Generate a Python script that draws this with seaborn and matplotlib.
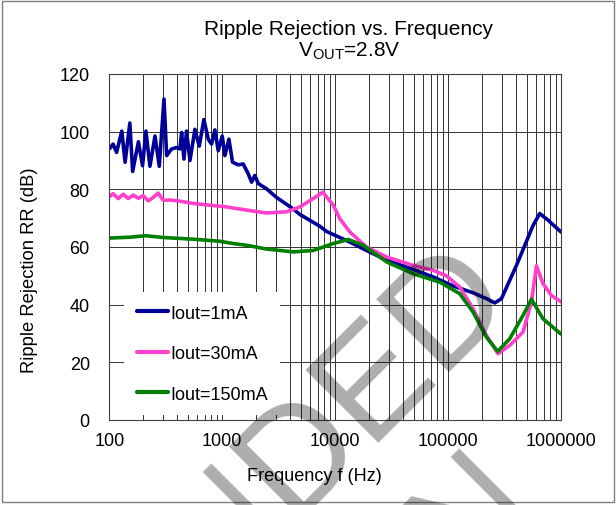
import matplotlib
matplotlib.use("Agg")
import matplotlib.pyplot as plt
import pandas as pd
import seaborn as sns
from matplotlib.patches import Rectangle
from matplotlib.ticker import LogLocator, NullFormatter

# ---- data ----
blue_freq = [100, 108, 116, 129, 138, 152, 161, 181, 197, 211, 229, 254, 277,
             305, 322, 356, 394, 422, 437, 458, 483, 518, 573, 626, 688, 752,
             805, 861, 922, 1000, 1056, 1146, 1234, 1386, 1534, 1699, 1818,
             1945, 2083, 2468, 3000, 4250, 4870, 7320, 8390, 13500, 18960,
             28680, 49300, 73900, 110900, 166700, 218800, 259000, 297000,
             403000, 566000, 648000, 769000, 1000000]
blue_rr = [94.0, 95.7, 92.8, 100.2, 89.4, 103.0, 86.2, 96.5, 88.2, 100.2, 88.0,
           98.5, 88.0, 111.3, 91.7, 94.0, 94.5, 94.0, 99.7, 90.5, 100.2, 90.0,
           100.8, 95.0, 104.2, 97.4, 95.7, 100.6, 93.4, 98.5, 91.7, 97.4, 89.4,
           88.5, 88.8, 85.4, 82.5, 84.8, 82.0, 80.2, 77.3, 73.2, 71.3, 67.2,
           65.4, 61.7, 58.8, 55.4, 52.2, 49.6, 46.5, 44.1, 42.1, 40.6, 42.1,
           53.6, 67.5, 71.6, 69.3, 65.2]

pink_freq = [100, 108, 120, 133, 147, 163, 181, 200, 221, 245, 271, 300, 344,
             422, 554, 777, 1090, 1640, 2460, 3700, 4870, 6390, 7790, 9620,
             11000, 13500, 18960, 28680, 49300, 73900, 96800, 127000, 166700,
             218800, 277000, 352000, 461000, 547000, 606000, 693000, 822000,
             1000000]
pink_rr = [77.4, 78.5, 76.8, 78.3, 76.8, 78.0, 76.9, 77.8, 76.0, 77.2, 78.7,
           76.2, 76.3, 75.9, 75.1, 74.5, 73.9, 72.8, 71.8, 72.2, 73.9, 76.8,
           79.0, 74.5, 69.8, 65.2, 60.0, 56.5, 53.6, 51.9, 50.0, 46.1, 38.6,
           29.3, 23.0, 25.9, 30.5, 40.9, 53.5, 47.3, 43.2, 41.0]

green_freq = [100, 152, 210, 300, 554, 950, 1250, 1640, 2466, 4250, 6400, 9620,
              13060, 17700, 28680, 49300, 84500, 127000, 166700, 218800,
              275000, 352000, 461000, 547000, 693000, 1000000]
green_rr = [63.1, 63.4, 63.9, 63.3, 62.7, 62.0, 61.2, 60.6, 59.3, 58.3, 58.8,
            61.2, 62.6, 60.6, 54.8, 50.7, 47.8, 43.8, 37.4, 28.7, 23.8, 28.2,
            36.3, 41.9, 35.1, 29.8]

series_labels = ["Iout=1mA", "Iout=30mA", "Iout=150mA"]
series_colors = ["#000099", "#FF40CC", "#008000"]

x_ticks = [100, 1000, 10000, 100000, 1000000]
x_tick_labels = ["100", "1000", "10000", "100000", "1000000"]
y_ticks = [0, 20, 40, 60, 80, 100, 120]

W, H = 616, 506


def fx(px):
    return px / W


def fy(py):
    return 1 - py / H


frames = []
for label, f, rr in zip(series_labels,
                        [blue_freq, pink_freq, green_freq],
                        [blue_rr, pink_rr, green_rr]):
    frames.append(pd.DataFrame({"freq": f, "rr": rr, "series": label}))
df = pd.concat(frames, ignore_index=True)

sns.set_theme(style="white")
plt.rcParams.update({
    "font.family": ["Liberation Sans", "DejaVu Sans"],
    "mathtext.fontset": "custom",
    "mathtext.rm": "Liberation Sans",
    "mathtext.it": "Liberation Sans:italic",
    "mathtext.bf": "Liberation Sans:bold",
    "text.color": "black",
})

fig = plt.figure(figsize=(W / 100, H / 100), dpi=100)
ax = fig.add_axes([fx(109.3), fy(421), (561 - 109.3) / W, (421 - 75) / H])

sns.lineplot(data=df, x="freq", y="rr", hue="series", hue_order=series_labels,
             palette=series_colors, linewidth=2.6, estimator=None, sort=True,
             ax=ax)

ax.set_xscale("log")
ax.set_xlim(100, 1000000)
ax.set_ylim(0, 120)
ax.set_xticks(x_ticks)
ax.set_xticklabels(x_tick_labels)
ax.xaxis.set_minor_locator(LogLocator(base=10, subs=range(2, 10)))
ax.xaxis.set_minor_formatter(NullFormatter())
ax.set_yticks(y_ticks)
ax.set_xlabel("")
ax.set_ylabel("")
ax.tick_params(axis="both", which="both", length=0, labelsize=13,
               colors="black")
ax.tick_params(axis="x", pad=9)
ax.tick_params(axis="y", pad=14)
ax.grid(True, axis="x", which="both", color="#333333", linewidth=0.7)
ax.grid(True, axis="y", which="major", color="#333333", linewidth=0.7)
ax.set_axisbelow(True)
for spine in ax.spines.values():
    spine.set_color("#404040")
    spine.set_linewidth(0.8)

handles, labels = ax.get_legend_handles_labels()
leg = ax.legend(handles, labels, loc="upper left",
                bbox_to_anchor=((124 - 109.3) / 451.7, (421 - 293) / 346),
                borderaxespad=0, frameon=True, fancybox=False,
                facecolor="white", edgecolor="none", framealpha=1,
                fontsize=13, handlelength=1.75, handletextpad=0.1,
                labelspacing=1.3, borderpad=0.7)
for line in leg.get_lines():
    line.set_linewidth(3.0)

fig.text(fx(349), fy(35), "Ripple Rejection vs. Frequency", ha="center",
         va="baseline", fontsize=15)
fig.text(fx(349), fy(56.7), r"V$_{\mathrm{OUT}}$=2.8V", ha="center",
         va="baseline", fontsize=15)
fig.text(fx(30), fy(270), "Ripple Rejection RR (dB)", rotation=90,
         ha="center", va="center", fontsize=13.2)
fig.text(fx(314.7), fy(476.5), "Frequency f (Hz)", ha="center", va="center",
         fontsize=13.1)

# watermark
wm = dict(rotation=45, rotation_mode="anchor", ha="right", va="baseline",
          fontsize=108, color="black", alpha=0.32, zorder=10)
fig.text(fx(518), fy(304), "NOT RECOMMENDED", **wm)
fig.text(fx(542), fy(513), "FOR NEW DESIGN", **wm)

fig.patches.append(Rectangle((fx(2.5), fy(503)), (614 - 2.5) / W,
                             (503 - 1.5) / H, transform=fig.transFigure,
                             fill=False, edgecolor="#808080", linewidth=1.0))

fig.savefig("out.png", dpi=100)
